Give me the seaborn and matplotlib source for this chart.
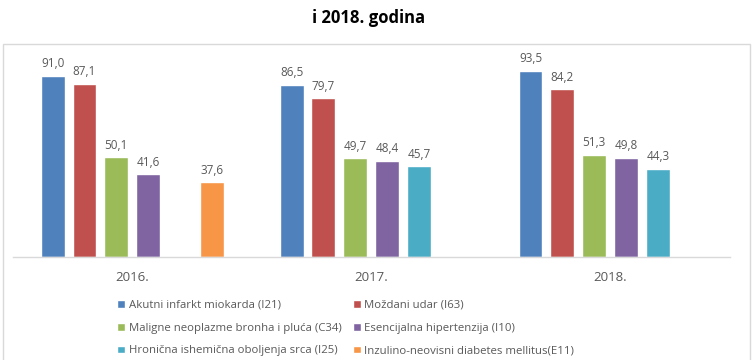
import pandas as pd
import matplotlib
matplotlib.use("Agg")
from matplotlib import pyplot as plt
from matplotlib.patches import Patch, Rectangle
import seaborn as sns

years = ["2016.", "2017.", "2018."]
diseases = [
    "Akutni infarkt miokarda (I21)",
    "Moždani udar (I63)",
    "Maligne neoplazme bronha i pluća (C34)",
    "Esencijalna hipertenzija (I10)",
    "Hronična ishemična oboljenja srca (I25)",
    "Inzulino-neovisni diabetes mellitus(E11)",
]
akutni_infarkt = [91.0, 86.5, 93.5]
mozdani_udar = [87.1, 79.7, 84.2]
maligne_neoplazme = [50.1, 49.7, 51.3]
esencijalna_hipertenzija = [41.6, 48.4, 49.8]
hronicna_ishemicna = [None, 45.7, 44.3]
dijabetes = [37.6, None, None]
colors = ["#4F81BD", "#C0504D", "#9BBB59", "#8064A2", "#4BACC6", "#F79646"]

series = [akutni_infarkt, mozdani_udar, maligne_neoplazme,
          esencijalna_hipertenzija, hronicna_ishemicna, dijabetes]
rows = []
for name, vals in zip(diseases, series):
    for yr, v in zip(years, vals):
        rows.append({"godina": yr, "bolest": name, "stopa": v})
df = pd.DataFrame(rows).dropna()

sns.set_style("white")
plt.rcParams["font.family"] = ["Open Sans", "DejaVu Sans"]
grey = "#595959"

fig = plt.figure(figsize=(7.53, 3.6), dpi=100)
ax = fig.add_axes([0.017, 0.286, 0.952, 0.553])

sns.barplot(data=df, x="godina", y="stopa", hue="bolest", order=years,
            hue_order=diseases, palette=colors, width=0.8, gap=0.25,
            saturation=1, legend=False, ax=ax)

for c in ax.containers:
    labels = [f"{b.get_height():.1f}".replace(".", ",") for b in c]
    ax.bar_label(c, labels=labels, padding=4, fontsize=8.5, color=grey)

ax.set_xlim(-0.5, 2.5)
ax.set_ylim(0, 100)
ax.set_xlabel("")
ax.set_ylabel("")
ax.set_yticks([])
ax.tick_params(axis="x", length=0, pad=10, labelsize=9.5, labelcolor=grey)
for s in ["top", "left", "right"]:
    ax.spines[s].set_visible(False)
ax.spines["bottom"].set_color("#D9D9D9")
ax.spines["bottom"].set_linewidth(1)

# legend, filled row by row like the original
handles = [Patch(facecolor=col, label=d) for d, col in zip(diseases, colors)]
order = [0, 2, 4, 1, 3, 5]
fig.legend([handles[i] for i in order], [diseases[i] for i in order],
           ncol=2, loc="upper left", bbox_to_anchor=(0.145, 0.19),
           frameon=False, fontsize=8.2, labelcolor=grey,
           handlelength=0.7, handleheight=0.7, handletextpad=0.3,
           columnspacing=1.0, labelspacing=1.05, borderpad=0.2)

fig.text(0.49, 0.95, "i 2018. godina", ha="center", va="center",
         fontsize=12, fontweight="bold", color="#000000")

fig.patches.append(Rectangle((0.004, -0.05), 0.992, 0.928, transform=fig.transFigure,
                             fill=False, edgecolor="#D9D9D9", linewidth=1))

fig.savefig("out.png", dpi=100)
